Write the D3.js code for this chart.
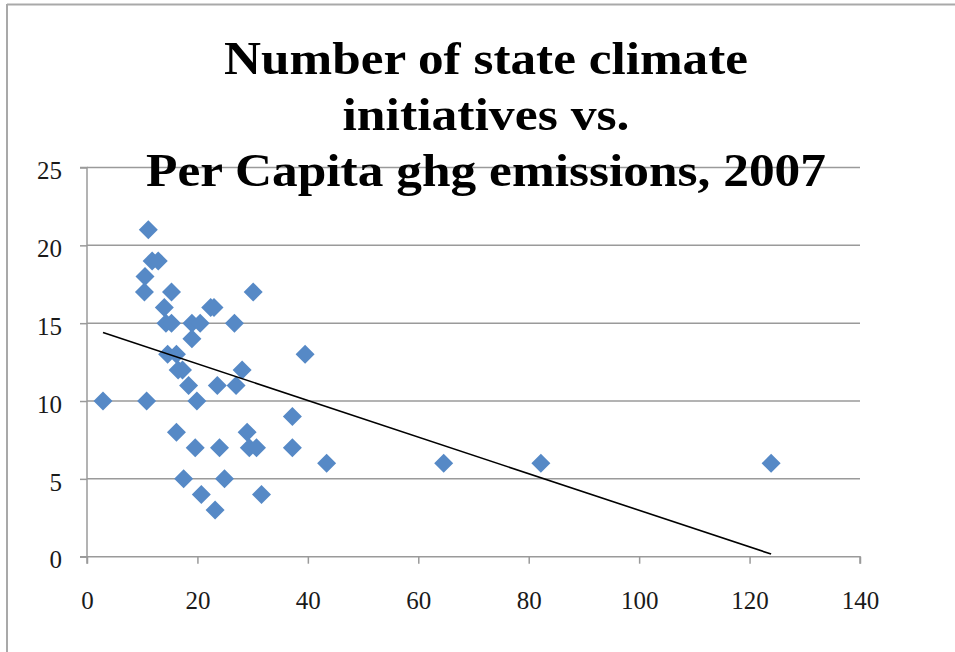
<!DOCTYPE html>
<html>
<head>
<meta charset="utf-8">
<script src="https://cdn.jsdelivr.net/npm/d3@7"></script>
<style>
  html, body { margin: 0; padding: 0; background: #fff; }
  svg { display: block; }
</style>
</head>
<body>
<svg id="chart" width="955" height="652"></svg>
<script>
// ---- data ----
const titleLines = ["Number of state climate", "initiatives vs.", "Per Capita ghg emissions, 2007"];
const emissions = [2.9, 11.1, 11.8, 12.9, 10.5, 10.4, 15.3, 30.1, 14.0, 22.4, 23.0, 14.3, 15.3, 19.0, 20.5, 26.7, 19.0, 14.6, 16.2, 39.5, 16.5, 17.3, 28.1, 18.4, 23.6, 27.0, 10.8, 19.9, 37.2, 16.2, 29.0, 19.6, 24.0, 29.4, 30.7, 37.2, 43.4, 64.6, 82.2, 123.9, 17.5, 24.9, 20.7, 31.6, 23.2];
const initiatives = [10, 21, 19, 19, 18, 17, 17, 17, 16, 16, 16, 15, 15, 15, 15, 15, 14, 13, 13, 13, 12, 12, 12, 11, 11, 11, 10, 10, 9, 8, 8, 7, 7, 7, 7, 7, 6, 6, 6, 6, 5, 5, 4, 4, 3];
const trendX = [2.9, 123.9];
const trendY = [14.4, 0.17];
const xTicks = [0, 20, 40, 60, 80, 100, 120, 140];
const yTicks = [0, 5, 10, 15, 20, 25];

// ---- layout ----
const svg = d3.select("#chart");
const plotL = 87, plotR = 860, plotT = 167.5, plotB = 556.7;
const x = d3.scaleLinear().domain([0, 140]).range([plotL, plotR]);
const y = d3.scaleLinear().domain([0, 25]).range([plotB, plotT]);
const gridColor = "#9a9a9a";

// frame
svg.append("line").attr("x1", 7).attr("x2", 955).attr("y1", 4.5).attr("y2", 4.5)
  .attr("stroke", "#a9a9a9").attr("stroke-width", 2);
svg.append("line").attr("x1", 7).attr("x2", 7).attr("y1", 4).attr("y2", 652)
  .attr("stroke", "#a9a9a9").attr("stroke-width", 2);

// gridlines
svg.append("g").selectAll("line").data(yTicks.filter(d => d > 0)).join("line")
  .attr("x1", plotL).attr("x2", plotR)
  .attr("y1", d => y(d)).attr("y2", d => y(d))
  .attr("stroke", gridColor).attr("stroke-width", 1.5);

// y axis
const yAxis = d3.axisLeft(y).tickValues(yTicks).tickSize(7).tickPadding(18).tickFormat(d3.format("d"));
const gy = svg.append("g").attr("transform", `translate(${plotL},0)`).call(yAxis);
gy.select(".domain").attr("stroke", gridColor).attr("stroke-width", 1.5).attr("d", `M-7,${plotB}H0V${plotT}H-7`);
gy.selectAll(".tick line").attr("stroke", gridColor).attr("stroke-width", 1.5);
gy.selectAll(".tick text").attr("font-family", "Liberation Serif, serif").attr("font-size", 25)
  .attr("fill", "#1a1a1a").attr("dy", "0.45em");

// x axis
const xAxis = d3.axisBottom(x).tickValues(xTicks).tickSize(7).tickPadding(28).tickFormat(d3.format("d"));
const gx = svg.append("g").attr("transform", `translate(0,${plotB})`).call(xAxis);
gx.select(".domain").attr("stroke", gridColor).attr("stroke-width", 1.5).attr("d", `M${plotL},7V0H${plotR}V7`);
gx.selectAll(".tick line").attr("stroke", gridColor).attr("stroke-width", 1.5);
gx.selectAll(".tick text").attr("font-family", "Liberation Serif, serif").attr("font-size", 25)
  .attr("fill", "#1a1a1a");

// points
const pts = emissions.map((e, i) => ({ x: e, y: initiatives[i] }));
const r = 9.5;
svg.append("g").selectAll("path").data(pts).join("path")
  .attr("d", d => `M${x(d.x)},${y(d.y) - r}L${x(d.x) + r},${y(d.y)}L${x(d.x)},${y(d.y) + r}L${x(d.x) - r},${y(d.y)}Z`)
  .attr("fill", "#5689c6");

// trend line
svg.append("line")
  .attr("x1", x(trendX[0])).attr("y1", y(trendY[0]))
  .attr("x2", x(trendX[1])).attr("y2", y(trendY[1]))
  .attr("stroke", "#000").attr("stroke-width", 1.6);

// title
const titleWidths = [524, 287, 680];
const baselines = [73.5, 130, 186];
svg.append("g").selectAll("text").data(titleLines).join("text")
  .attr("x", 486).attr("y", (d, i) => baselines[i])
  .attr("text-anchor", "middle")
  .attr("font-family", "Liberation Serif, serif").attr("font-weight", "bold")
  .attr("font-size", 46).attr("fill", "#000")
  .attr("textLength", (d, i) => titleWidths[i]).attr("lengthAdjust", "spacingAndGlyphs")
  .text(d => d);
</script>
</body>
</html>
